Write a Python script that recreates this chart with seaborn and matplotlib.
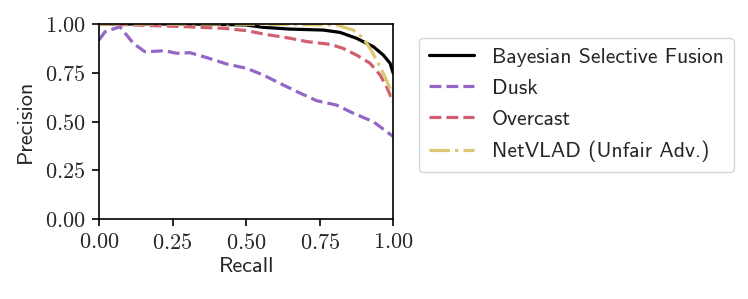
import matplotlib
matplotlib.use('Agg')
import matplotlib.pyplot as plt
import numpy as np
import pandas as pd
import seaborn as sns
from matplotlib.ticker import FuncFormatter

# precision / recall curves
fusion_recall = [0.0, 0.1, 0.2, 0.3, 0.4, 0.5, 0.558, 0.649, 0.762, 0.819, 0.875, 0.932, 0.966, 0.989, 1.0]
fusion_prec = [1.0, 1.0, 1.0, 1.0, 0.998, 0.995, 0.983, 0.974, 0.969, 0.957, 0.927, 0.884, 0.841, 0.799, 0.747]

dusk_recall = [0.0, 0.02, 0.071, 0.117, 0.156, 0.224, 0.264, 0.309, 0.366, 0.434, 0.502, 0.558, 0.615, 0.672, 0.74, 0.807, 0.864, 0.932, 1.0]
dusk_prec = [0.918, 0.96, 0.986, 0.90, 0.858, 0.863, 0.85, 0.853, 0.828, 0.795, 0.773, 0.739, 0.696, 0.654, 0.607, 0.585, 0.543, 0.5, 0.423]

overcast_recall = [0.0, 0.1, 0.2, 0.3, 0.422, 0.502, 0.558, 0.649, 0.706, 0.785, 0.83, 0.875, 0.921, 0.955, 0.977, 1.0]
overcast_prec = [1.0, 0.996, 0.991, 0.986, 0.978, 0.966, 0.949, 0.927, 0.91, 0.896, 0.875, 0.841, 0.799, 0.739, 0.679, 0.6]

netvlad_recall = [0.0, 0.2, 0.4, 0.6, 0.807, 0.864, 0.898, 0.921, 0.943, 0.966, 0.989, 1.0]
netvlad_prec = [1.0, 1.0, 1.0, 0.998, 0.995, 0.969, 0.927, 0.875, 0.816, 0.747, 0.671, 0.628]

labels = ['Bayesian Selective Fusion', 'Dusk', 'Overcast', 'NetVLAD (Unfair Adv.)']
colors = ['#000000', '#9467c4', '#d0606f', '#dcc870']
styles = ['-', '--', '--', '-.']

sns.set_style('ticks')
plt.rcParams['font.family'] = ['cmss10', 'DejaVu Sans']
plt.rcParams['mathtext.fontset'] = 'cm'
plt.rcParams['axes.unicode_minus'] = False

fig = plt.figure(figsize=(7.48, 2.99), dpi=100)
ax = fig.add_axes([0.1324, 0.2666, 0.3934, 0.6531])

curves = [(fusion_recall, fusion_prec), (dusk_recall, dusk_prec),
          (overcast_recall, overcast_prec), (netvlad_recall, netvlad_prec)]
for (r, p), lab, c, ls in zip(curves, labels, colors, styles):
    sns.lineplot(x=r, y=p, ax=ax, color=c, linestyle=ls, linewidth=2.3, label=lab)

ax.set_xlim(0, 1)
ax.set_ylim(0, 1)
ax.set_xticks([0, 0.25, 0.5, 0.75, 1.0])
ax.set_yticks([0, 0.25, 0.5, 0.75, 1.0])
fmt = FuncFormatter(lambda v, pos: f'${v:.2f}$')
ax.xaxis.set_major_formatter(fmt)
ax.yaxis.set_major_formatter(fmt)
ax.tick_params(labelsize=16, length=4.7, width=1.2, color='black', pad=5)
for s in ax.spines.values():
    s.set_visible(True)
    s.set_color('black')
    s.set_linewidth(1.2)
ax.set_xlabel('Recall', fontsize=16, labelpad=3)
ax.set_ylabel('Precision', fontsize=16, labelpad=7)

ax.legend(loc='upper left', bbox_to_anchor=(1.087, 0.929), borderaxespad=0,
          fontsize=15.6, frameon=True, edgecolor='#cccccc', handlelength=2.1,
          labelspacing=0.55, handletextpad=0.83, borderpad=0.45)

fig.savefig('out.png', dpi=100)
